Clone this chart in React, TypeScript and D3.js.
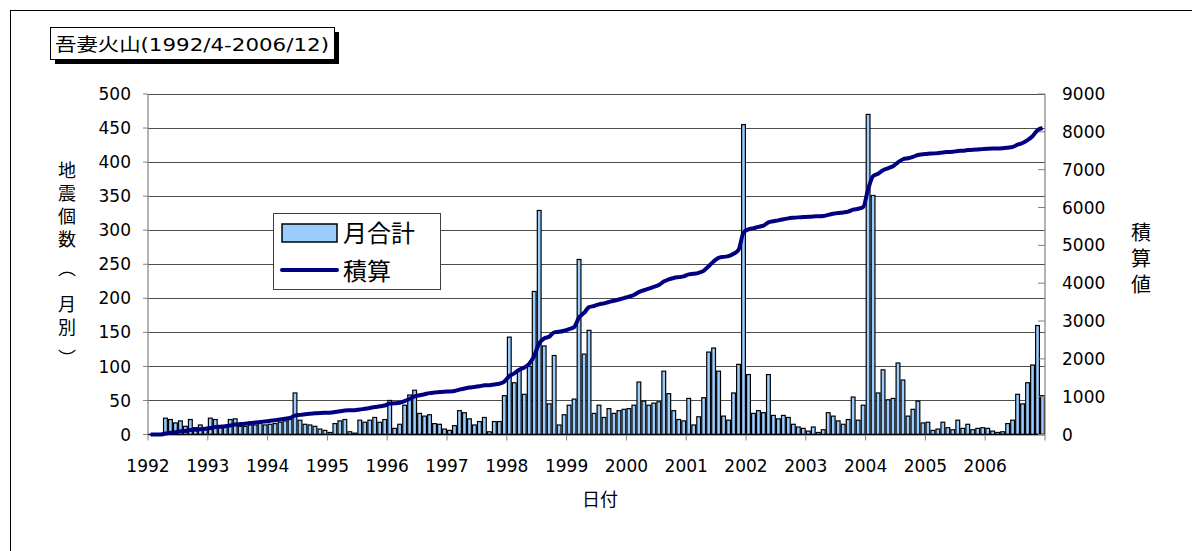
import * as d3 from 'd3';

// monthly earthquake counts (Jan..Dec), record starts 1992/4
const counts1992 = [0, 0, 0, 24, 22, 17, 20, 12, 22, 10, 14, 9];
const counts1993 = [24, 22, 10, 12, 22, 23, 12, 12, 14, 14, 17, 14];
const counts1994 = [15, 16, 18, 20, 22, 61, 21, 15, 14, 12, 8, 6];
const counts1995 = [3, 16, 20, 22, 4, 2, 21, 18, 21, 25, 18, 22];
const counts1996 = [50, 9, 15, 43, 58, 65, 31, 27, 29, 16, 15, 8];
const counts1997 = [6, 13, 35, 32, 23, 14, 19, 25, 4, 19, 19, 57];
const counts1998 = [143, 76, 94, 59, 100, 210, 329, 130, 45, 116, 14, 29];
const counts1999 = [43, 52, 257, 118, 153, 31, 43, 25, 38, 31, 35, 37];
const counts2000 = [38, 43, 77, 49, 43, 46, 48, 93, 60, 35, 22, 20];
const counts2001 = [53, 14, 26, 54, 121, 127, 93, 27, 21, 61, 103, 455];
const counts2002 = [88, 31, 35, 32, 88, 28, 23, 28, 25, 15, 11, 9];
const counts2003 = [5, 11, 3, 7, 32, 27, 20, 15, 22, 55, 21, 43];
const counts2004 = [470, 351, 61, 95, 51, 53, 105, 80, 27, 37, 49, 17];
const counts2005 = [18, 6, 8, 18, 10, 7, 21, 9, 15, 7, 9, 10];
const counts2006 = [9, 5, 3, 4, 16, 21, 59, 45, 76, 102, 160, 57];

const yearLabels = ['1992', '1993', '1994', '1995', '1996', '1997', '1998', '1999',
  '2000', '2001', '2002', '2003', '2004', '2005', '2006'];
const leftTicks = [0, 50, 100, 150, 200, 250, 300, 350, 400, 450, 500];
const rightTicks = [0, 1000, 2000, 3000, 4000, 5000, 6000, 7000, 8000, 9000];

const monthly = [
  ...counts1992, ...counts1993, ...counts1994, ...counts1995, ...counts1996,
  ...counts1997, ...counts1998, ...counts1999, ...counts2000, ...counts2001,
  ...counts2002, ...counts2003, ...counts2004, ...counts2005, ...counts2006,
];
const cumulative = Array.from(d3.cumsum(monthly));

const NUM_FONT = '"DejaVu Sans", "Noto Sans CJK JP", sans-serif';
const JP_FONT = '"Noto Sans CJK JP", sans-serif';

export default function App() {
  const left = 148;
  const right = 1045;
  const top = 94;
  const bottom = 434.5;

  const x = d3.scaleLinear().domain([0, monthly.length]).range([left, right]);
  const y = d3.scaleLinear().domain([0, 500]).range([bottom, top]);
  const yR = d3.scaleLinear().domain([0, 9000]).range([bottom, top]);
  const step = x(1) - x(0);

  const line = d3.line<number>()
    .x((_, i) => x(i + 0.5))
    .y(d => yR(d))
    .curve(d3.curveMonotoneX);

  // vertical axis titles, one glyph per slot
  const leftTitle = ['地', '震', '個', '数', '（', '月', '別', '）'];
  const leftTitleY = [170, 193, 216, 239, 268, 304, 327, 358];
  const rightTitle = ['積', '算', '値'];
  const rightTitleY = [232, 258, 284];

  return (
    <svg width={1192} height={551} style={{ position: 'absolute', left: 0, top: 0, background: '#fff' }}>
      <rect x={10.5} y={10.5} width={1300} height={700} fill="none" stroke="#000" strokeWidth={1} />

      {/* title box */}
      <rect x={55} y={32} width={284} height={32} fill="#000" />
      <rect x={50.5} y={27.5} width={284} height={32} fill="#fff" stroke="#000" strokeWidth={1} />
      <text x={55} y={51} fontFamily={NUM_FONT} fontSize={18} textLength={274} lengthAdjust="spacingAndGlyphs">
        吾妻火山(1992/4-2006/12)
      </text>

      {/* gridlines */}
      {leftTicks.filter(t => t > 0).map(t => (
        <line key={t} x1={left} x2={right} y1={Math.round(y(t)) + 0.5} y2={Math.round(y(t)) + 0.5}
          stroke="#4d4d4d" strokeWidth={1} />
      ))}

      {/* bars */}
      {monthly.map((v, i) => v > 0 && (
        <rect key={i} x={x(i) + 0.6} y={y(v)} width={step - 1.2} height={bottom - y(v)}
          fill="#99CCFF" stroke="#000" strokeWidth={1.2} />
      ))}

      {/* axes */}
      <line x1={left} x2={left} y1={top} y2={bottom} stroke="#808080" strokeWidth={1.2} />
      <line x1={right} x2={right} y1={top} y2={bottom} stroke="#808080" strokeWidth={1.2} />
      <line x1={left} x2={right} y1={bottom} y2={bottom} stroke="#000" strokeWidth={1.5} />
      {leftTicks.map(t => (
        <g key={t}>
          <line x1={left - 5} x2={left} y1={y(t)} y2={y(t)} stroke="#808080" />
          <text x={131} y={y(t)} dy="0.36em" textAnchor="end" fontFamily={NUM_FONT} fontSize={17}>{t}</text>
        </g>
      ))}
      {rightTicks.map(t => (
        <g key={t}>
          <line x1={right - 7} x2={right} y1={yR(t)} y2={yR(t)} stroke="#808080" />
          <text x={1062} y={yR(t)} dy="0.36em" fontFamily={NUM_FONT} fontSize={17}>{t}</text>
        </g>
      ))}
      {d3.range(0, monthly.length + 1, 12).map(i => (
        <line key={i} x1={x(i)} x2={x(i)} y1={bottom} y2={bottom + 6} stroke="#808080" />
      ))}
      {yearLabels.map((lab, k) => (
        <text key={lab} x={x(k * 12)} y={472} textAnchor="middle" fontFamily={NUM_FONT} fontSize={17}>{lab}</text>
      ))}

      {/* cumulative line */}
      <path d={line(cumulative) ?? ''} fill="none" stroke="#000080" strokeWidth={4} strokeLinejoin="round" />

      {/* axis titles */}
      <text fontFamily={JP_FONT} fontSize={18} textAnchor="middle" style={{ writingMode: 'vertical-rl' }}>
        {leftTitle.map((c, k) => (
          <tspan key={k} x={67} y={leftTitleY[k]}>{c}</tspan>
        ))}
      </text>
      <text fontFamily={JP_FONT} fontSize={20} textAnchor="middle" style={{ writingMode: 'vertical-rl' }}>
        {rightTitle.map((c, k) => (
          <tspan key={k} x={1141} y={rightTitleY[k]}>{c}</tspan>
        ))}
      </text>
      <text x={600} y={500} textAnchor="middle" dy="0.35em" fontFamily={JP_FONT} fontSize={18}>日付</text>

      {/* legend */}
      <rect x={273.5} y={213.5} width={167} height={76} fill="#fff" stroke="#404040" strokeWidth={1} />
      <rect x={282} y={224} width={55} height={18} fill="#99CCFF" stroke="#000" strokeWidth={1.5} />
      <text x={343} y={233} dy="0.36em" fontFamily={JP_FONT} fontSize={24}>月合計</text>
      <line x1={282} x2={337} y1={270} y2={270} stroke="#000080" strokeWidth={4} strokeLinecap="round" />
      <text x={343} y={271} dy="0.36em" fontFamily={JP_FONT} fontSize={24}>積算</text>
    </svg>
  );
}
